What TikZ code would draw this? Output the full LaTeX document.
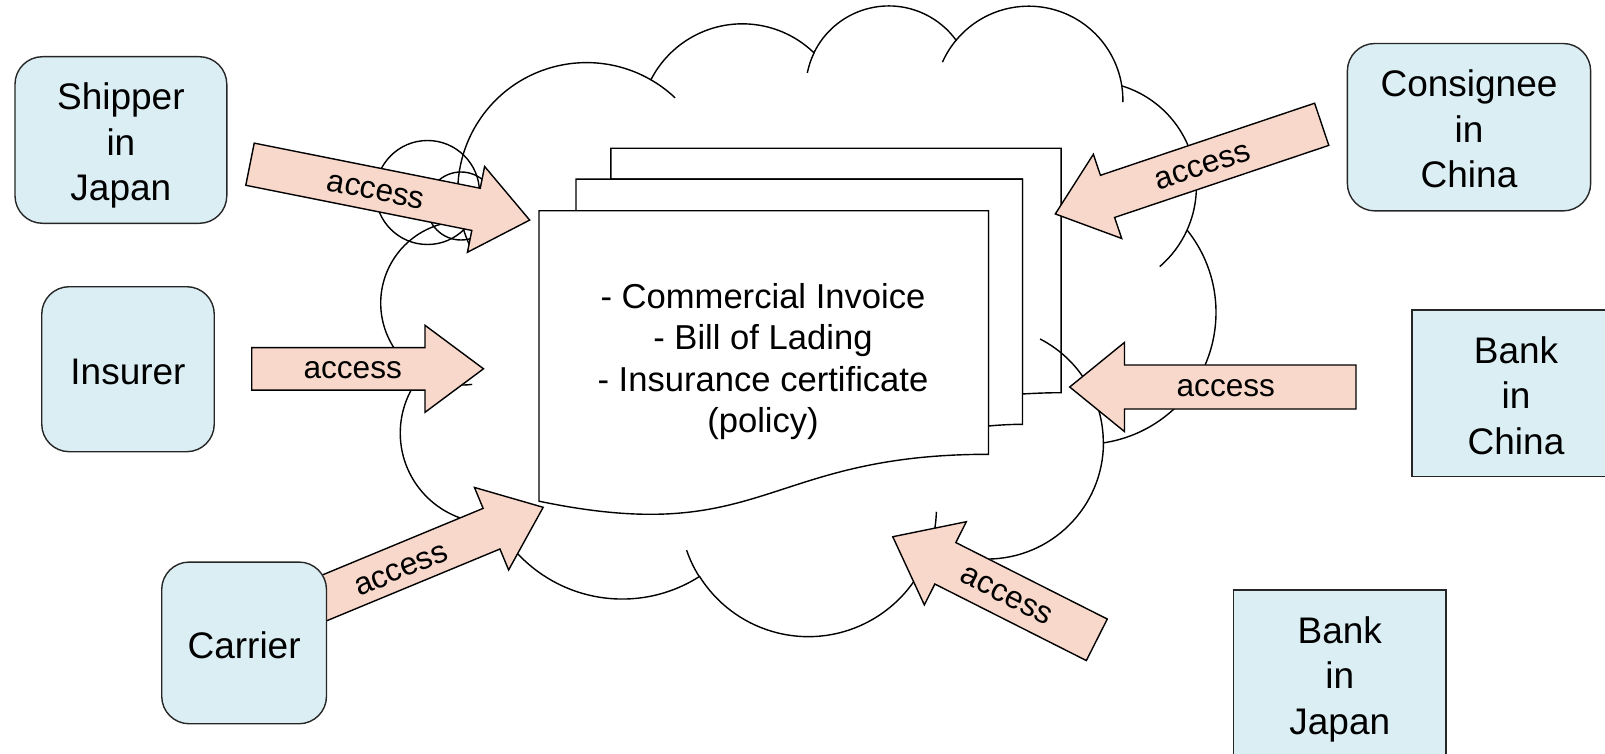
\documentclass[tikz,border=0pt]{standalone}
\usepackage{fontspec}
\setmainfont{Liberation Sans}
\definecolor{boxblue}{RGB}{218,238,243}
\definecolor{arrowfill}{RGB}{248,216,203}
\newcommand\boxfont{\fontsize{37}{45.5}\selectfont}
\newcommand\docfont{\fontsize{34.6}{41.3}\selectfont}
\newcommand\accessfont{\fontsize{31.6}{36}\selectfont}
% fixed line box so every party label sits on the same baseline grid
\newcommand\boxstrut{\rule[-9.4pt]{0pt}{49.4pt}}
% block arrow: #1 name of its centre, #2 tail centre, #3 direction (deg, y down),
% #4 length, #5 shaft width, #6 head width, #7 head length
\newcommand\blockarrow[7]{%
  \begin{scope}[shift={#2}, rotate={-(#3)}]
    \draw[blockarrowstyle] (0,{-(#5)/2}) -- ({#4-#7},{-(#5)/2}) -- ({#4-#7},{-(#6)/2})
      -- (#4,0) -- ({#4-#7},{(#6)/2}) -- ({#4-#7},{(#5)/2}) -- (0,{(#5)/2}) -- cycle;
    \coordinate (#1) at ({(#4-#7)/2},0);
  \end{scope}}
% short inner arc of the cloud: #1 centre, #2 start angle, #3 end angle, #4 radius
\newcommand\cloudstub[4]{%
  \draw[cloudline] ([shift={(#2:#4)}]#1) arc[start angle=#2, end angle=#3, radius=#4];}
\begin{document}
\begin{tikzpicture}[x=1pt, y=-1pt,
  sheet/.style={draw=black, line width=1.4pt, fill=white},
  cloudline/.style={draw=black, line width=1.4pt},
  bubble/.style={draw=black, line width=1.4pt},
  blockarrowstyle/.style={draw=black, line width=1.4pt, fill=arrowfill},
  partybox/.style={draw=black!85, line width=1.4pt, fill=boxblue, align=center,
    font=\boxfont, inner sep=0pt},
  roundparty/.style={partybox, rounded corners=27.5pt},
  accesslabel/.style={font=\accessfont, inner sep=0pt},
  doctext/.style={font=\docfont, align=center, inner sep=0pt}]
\useasboundingbox (0,0) rectangle (1605,754);
\clip (0,0) rectangle (1605,754);

% stacked documents
\draw[sheet] (610.8,179.1) -- (610.8,148.3) -- (1061.1,148.3) -- (1061.1,392.7)
  .. controls (1041.8,392.7) and (1022.5,394.0) .. (1022.5,394.0) -- (1022.5,179.1) -- cycle;
\draw[sheet] (576.0,210.7) -- (576.0,179.1) -- (1022.5,179.1) -- (1022.5,424.3)
  .. controls (1005.5,424.3) and (988.5,426.0) .. (988.5,426.0) -- (988.5,210.7) -- cycle;
\draw[sheet] (539,501.2) .. controls (763.8,548.0) and (763.8,454.3) .. (988.5,454.3)
  -- (988.5,210.7) -- (539,210.7) -- cycle;
\node[doctext] (doclist) at (763,361.5)
  {- Commercial Invoice\\- Bill of Lading\\- Insurance certificate\\(policy)};

% cloud lobe centres
\coordinate (cA) at (586.6,191.4);
\coordinate (cB) at (742.5,126.7);
\coordinate (cC) at (888.9,89.2);
\coordinate (cD) at (1028.6,100.5);
\coordinate (cE) at (1091,186.7);
\coordinate (cF) at (1084.2,312.5);
\coordinate (cG) at (986.8,442.6);
\coordinate (cH) at (808,508.4);
\coordinate (cI) at (622,455.8);
\coordinate (cJ) at (489.9,433.1);
\coordinate (cK) at (462.2,303.1);

% cloud outline
\draw[cloudline] ([shift={(166.6:128.8)}]cA)
  arc[start angle=166.6, end angle=299.95, radius=128.8]
  arc[start angle=-152.9, end angle=-45.9, radius=102.8]
  arc[start angle=-154.1, end angle=-36.0, radius=83.2]
  arc[start angle=-140.3, end angle=-8.9, radius=94.3]
  arc[start angle=-73.0, end angle=24.3, radius=105.4]
  arc[start angle=-38.7, end angle=81.6, radius=131.8]
  arc[start angle=0.15, end angle=118.5, radius=116.5]
  arc[start angle=16.6, end angle=147.9, radius=128.4]
  arc[start angle=57.4, end angle=152.0, radius=143.4]
  arc[start angle=86.6, end angle=220.7, radius=90.1]
  arc[start angle=119.7, end angle=269.4, radius=81.9]
  -- cycle;
% inner arcs of the cloud
\cloudstub{cA}{-60.05}{-46.6}{128.8}
\cloudstub{cA}{154}{166.6}{128.8}
\cloudstub{cC}{-168.7}{-154.1}{83.2}
\cloudstub{cD}{-156.0}{-140.3}{94.3}
\cloudstub{cD}{-8.9}{1.0}{94.3}
\cloudstub{cE}{24.3}{49.3}{105.4}
\cloudstub{cG}{-62.8}{0.15}{116.5}
\cloudstub{cH}{1.5}{16.6}{128.4}
\cloudstub{cH}{147.9}{161.0}{128.4}
\cloudstub{cJ}{75}{86.6}{90.1}
\cloudstub{cK}{83}{119.7}{81.9}

% callout bubbles
\coordinate (bubbleBig) at (427.5,192.5);
\coordinate (bubbleSmall) at (461,206);
\draw[bubble] (bubbleBig) circle[radius=52];
\draw[bubble] (bubbleSmall) circle[radius=34];

% access arrows
\blockarrow{arShipper}{(250,164.2)}{11.3}{285.2}{43}{87.5}{54.7}
\blockarrow{arInsurer}{(251.7,368.8)}{0}{231.8}{42.5}{87}{58.5}
\blockarrow{arCarrier}{(300.3,607.9)}{-22.5}{262.9}{44}{89.3}{55.9}
\blockarrow{arConsignee}{(1321.7,124.3)}{161.4}{281.1}{44.5}{88.8}{55.1}
\blockarrow{arBankCN}{(1356,387)}{180}{286.3}{44}{89.2}{54.8}
\blockarrow{arBankJP}{(1096.8,639.8)}{-153.2}{228.6}{46.5}{93.2}{58.9}

% parties
\node[roundparty, minimum width=211.8, minimum height=166.6] (shipper) at (120.9,140)
  {\boxstrut Shipper\\in\\Japan\boxstrut};
\node[roundparty, minimum width=172.5, minimum height=165] (insurer) at (128,369.2)
  {\boxstrut Insurer};
\node[roundparty, minimum width=164.8, minimum height=161.7] (carrier) at (244.1,642.9)
  {\boxstrut Carrier};
\node[roundparty, minimum width=243.3, minimum height=167.4] (consignee) at (1469,127.2)
  {\boxstrut Consignee\\in\\China\boxstrut};
\node[partybox, minimum width=208, minimum height=166.7] (bankcn) at (1516,393.3)
  {\boxstrut Bank\\in\\China\boxstrut};
\node[partybox, minimum width=212.7, minimum height=166.7] (bankjp) at (1339.8,673.3)
  {\boxstrut Bank\\in\\Japan\boxstrut};

% arrow labels
\node[accesslabel, rotate=-11.3] (lblShipper) at (375.8,191.5) {access};
\node[accesslabel] (lblInsurer) at (352.7,370) {access};
\node[accesslabel, rotate=22.5] (lblCarrier) at (401.3,570.2) {access};
\node[accesslabel, rotate=18.6] (lblConsignee) at (1202.7,166.8) {access};
\node[accesslabel] (lblBankCN) at (1225.8,388.3) {access};
\node[accesslabel, rotate=-26.8] (lblBankJP) at (1006.2,595.7) {access};
\end{tikzpicture}
\end{document}
